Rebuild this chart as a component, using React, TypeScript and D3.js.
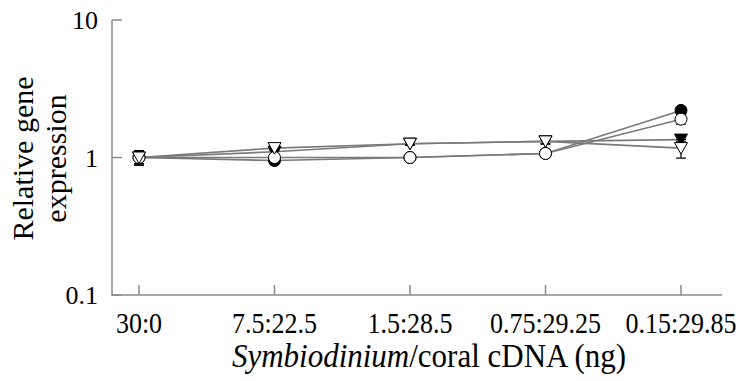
import React, { useEffect, useRef } from 'react';
import * as d3 from 'd3';

// dilution ratios Symbiodinium:coral (ng)
const ratios = ['30:0', '7.5:22.5', '1.5:28.5', '0.75:29.25', '0.15:29.85'];

// relative expression
const filledCircle = [1.0, 0.95, 1.0, 1.07, 2.2];
const openCircle = [1.0, 1.0, 1.0, 1.07, 1.9];
const filledTri = [1.0, 1.1, 1.26, 1.31, 1.35];
const openTri = [1.0, 1.17, 1.26, 1.31, 1.17];

// error bar half-widths
const filledCircleErr = [0.1, 0.03, 0.02, 0.04, 0.12];
const openCircleErr = [0.12, 0.03, 0.02, 0.04, 0.15];
const filledTriErr = [0.1, 0.04, 0.03, 0.05, 0.05];
const openTriErr = [0.12, 0.05, 0.03, 0.06, 0.18];

const yTicks = [0.1, 1, 10];

interface Series {
  values: number[];
  errs: number[];
  shape: 'circle' | 'tri';
  filled: boolean;
}

// filled markers first so the open ones sit on top where they overlap
const series: Series[] = [
  { values: filledCircle, errs: filledCircleErr, shape: 'circle', filled: true },
  { values: filledTri, errs: filledTriErr, shape: 'tri', filled: true },
  { values: openCircle, errs: openCircleErr, shape: 'circle', filled: false },
  { values: openTri, errs: openTriErr, shape: 'tri', filled: false },
];

const W = 738;
const H = 381;

const App: React.FC = () => {
  const svgRef = useRef<SVGSVGElement>(null);

  useEffect(() => {
    if (!svgRef.current) return;
    const svg = d3.select(svgRef.current);
    svg.selectAll('*').remove();

    const axisLeft = 112;
    const axisRight = 722;
    const axisTop = 20;
    const axisBottom = 295;
    const font = '"Liberation Serif", "Times New Roman", serif';
    const axisColor = '#8a8a8a';

    const x = d3.scalePoint<string>().domain(ratios).range([139, 681]);
    const y = d3.scaleLog().domain([0.1, 10]).range([axisBottom, axisTop]);

    // axes lines
    svg.append('path')
      .attr('d', `M${axisLeft},${axisTop}V${axisBottom}H${axisRight}`)
      .attr('fill', 'none')
      .attr('stroke', axisColor)
      .attr('stroke-width', 1.5);

    // y ticks (inward)
    yTicks.forEach(t => {
      svg.append('line')
        .attr('x1', axisLeft).attr('x2', axisLeft + 10)
        .attr('y1', y(t)).attr('y2', y(t))
        .attr('stroke', axisColor).attr('stroke-width', 1.5);
      svg.append('text')
        .attr('x', axisLeft - 14)
        .attr('y', y(t))
        .attr('dy', '0.35em')
        .attr('text-anchor', 'end')
        .style('font-family', font)
        .style('font-size', '26px')
        .text(String(t));
    });

    // x ticks (inward)
    ratios.forEach(r => {
      const px = x(r) as number;
      svg.append('line')
        .attr('x1', px).attr('x2', px)
        .attr('y1', axisBottom).attr('y2', axisBottom - 10)
        .attr('stroke', axisColor).attr('stroke-width', 1.5);
      svg.append('text')
        .attr('transform', `translate(${px},333) scale(1,1.12)`)
        .attr('text-anchor', 'middle')
        .style('font-family', font)
        .style('font-size', '26px')
        .text(r);
    });

    // x title
    const xt = svg.append('text')
      .attr('transform', `translate(${(axisLeft + axisRight) / 2 + 12},367) scale(1,1.08)`)
      .attr('text-anchor', 'middle')
      .style('font-family', font)
      .style('font-size', '31px');
    xt.append('tspan').style('font-style', 'italic').text('Symbiodinium');
    xt.append('tspan').text('/coral cDNA (ng)');

    // y title, two lines
    const yt = svg.append('text')
      .attr('transform', `translate(33, ${(axisTop + axisBottom) / 2 + 1}) rotate(-90)`)
      .attr('text-anchor', 'middle')
      .style('font-family', font)
      .style('font-size', '30px');
    yt.append('tspan').attr('x', 0).attr('dy', 0).text('Relative gene');
    yt.append('tspan').attr('x', 0).attr('dy', 33).text('expression');

    // lines
    const line = d3.line<number>()
      .x((_, i) => x(ratios[i]) as number)
      .y(d => y(d));

    series.forEach(s => {
      svg.append('path')
        .attr('d', line(s.values))
        .attr('fill', 'none')
        .attr('stroke', '#7a7a7a')
        .attr('stroke-width', 1.6);
    });

    // error bars + markers
    series.forEach(s => {
      const g = svg.append('g');
      s.values.forEach((v, i) => {
        const px = x(ratios[i]) as number;
        const e = s.errs[i];
        const y0 = y(v + e);
        const y1 = y(Math.max(0.11, v - e));
        g.append('line').attr('x1', px).attr('x2', px).attr('y1', y0).attr('y2', y1)
          .attr('stroke', '#000').attr('stroke-width', 1.2);
        [y0, y1].forEach(cy => {
          g.append('line').attr('x1', px - 5).attr('x2', px + 5).attr('y1', cy).attr('y2', cy)
            .attr('stroke', '#000').attr('stroke-width', 1.2);
        });
      });
      s.values.forEach((v, i) => {
        const px = x(ratios[i]) as number;
        const py = y(v);
        const fill = s.filled ? '#000' : '#fff';
        if (s.shape === 'circle') {
          g.append('circle').attr('cx', px).attr('cy', py).attr('r', 6)
            .attr('fill', fill).attr('stroke', '#000').attr('stroke-width', 1);
        } else {
          g.append('path')
            .attr('d', `M${px - 6.5},${py - 5.5}L${px + 6.5},${py - 5.5}L${px},${py + 6}Z`)
            .attr('fill', fill).attr('stroke', '#000').attr('stroke-width', 1);
        }
      });
    });
  }, []);

  return (
    <svg
      ref={svgRef}
      width={W}
      height={H}
      style={{ position: 'absolute', left: 0, top: 0, background: '#fff' }}
    />
  );
};

export default App;
